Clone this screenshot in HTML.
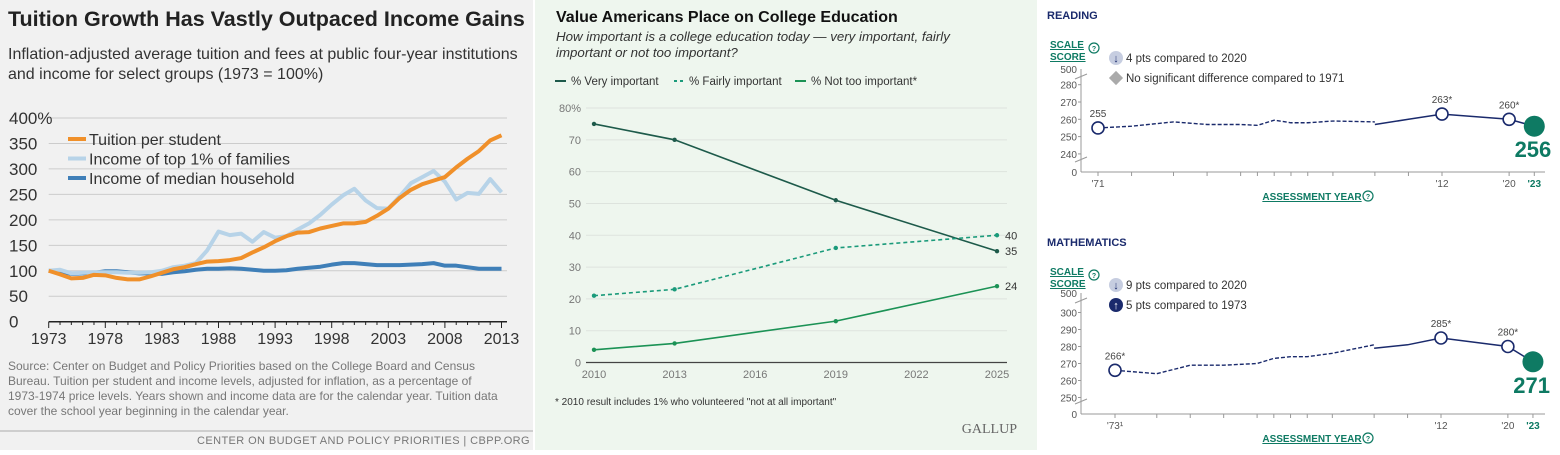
<!DOCTYPE html>
<html><head><meta charset="utf-8"><style>
body{margin:0;width:1560px;height:450px;overflow:hidden;background:#fff;font-family:"Liberation Sans",sans-serif}
svg text{font-family:"Liberation Sans",sans-serif}
</style></head><body>
<svg id="s" width="1560" height="450" xmlns="http://www.w3.org/2000/svg">
<rect x="0" y="0" width="533" height="450" fill="#f1f1f1"/>
<rect x="535" y="0" width="502" height="450" fill="#eef6ee"/>
<g id="left">
<text x="8" y="26" font-size="21.5" font-weight="bold" fill="#222">Tuition Growth Has Vastly Outpaced Income Gains</text>
<text x="8" y="59" font-size="16" fill="#333">Inflation-adjusted average tuition and fees at public four-year institutions</text>
<text x="8" y="79" font-size="16" fill="#333">and income for select groups (1973 = 100%)</text>
<g font-size="12" fill="#777">
<text x="8" y="370">Source: Center on Budget and Policy Priorities based on the College Board and Census</text>
<text x="8" y="385">Bureau. Tuition per student and income levels, adjusted for inflation, as a percentage of</text>
<text x="8" y="400">1973-1974 price levels. Years shown and income data are for the calendar year. Tuition data</text>
<text x="8" y="415">cover the school year beginning in the calendar year.</text>
</g>
<line x1="0" y1="431" x2="533" y2="431" stroke="#aaa"/>
<text x="530" y="444" font-size="11" fill="#777" text-anchor="end" letter-spacing="0.4">CENTER ON BUDGET AND POLICY PRIORITIES | CBPP.ORG</text>
</g>
<g id="mid">
<text x="556" y="22" font-size="16" font-weight="bold" fill="#111">Value Americans Place on College Education</text>
<text x="556" y="41" font-size="13.3" font-style="italic" fill="#333">How important is a college education today — very important, fairly</text>
<text x="556" y="57" font-size="13.3" font-style="italic" fill="#333">important or not too important?</text>
<g font-size="11.5" fill="#333">
<line x1="555" y1="81" x2="566" y2="81" stroke="#1d5a4a" stroke-width="2"/><text x="571" y="85">% Very important</text>
<line x1="674" y1="81" x2="685" y2="81" stroke="#1a9a7a" stroke-width="2" stroke-dasharray="3,3"/><text x="689" y="85">% Fairly important</text>
<line x1="795" y1="81" x2="806" y2="81" stroke="#1b9255" stroke-width="2"/><text x="811" y="85">% Not too important*</text>
</g>
<text x="555" y="405" font-size="10" fill="#333">* 2010 result includes 1% who volunteered "not at all important"</text>
<text x="1017" y="433" font-size="14" fill="#666" text-anchor="end" style="font-family:'Liberation Serif',serif">GALLUP</text>
</g>
<g id="right"></g>
</svg>
<script>
// ---- Left chart data
const leftYears=[];for(let y=1973;y<=2013;y++)leftYears.push(y);
const tuition=[100,93,85,86,92,91,86,83,83,89,96,103,107,113,118,119,121,125,136,146,158,168,175,176,183,188,193,193,196,208,222,243,259,270,277,284,303,320,335,356,366];
const top1=[100,102,95,96,97,97,97,96,96,97,100,107,110,115,140,177,170,173,157,176,165,168,181,193,210,230,248,261,238,223,222,246,272,284,296,275,240,253,251,280,254];
const median=[100,98,94,95,96,99,99,97,95,95,94,97,99,102,104,104,105,104,102,100,100,101,104,106,108,112,115,115,113,111,111,111,112,113,115,110,110,107,104,104,104];
const leftTicks=[0,50,100,150,200,250,300,350,400];
const leftXLabels=[1973,1978,1983,1988,1993,1998,2003,2008,2013];
// ---- Middle chart data
const midYears=[2010,2013,2019,2025];
const veryImp=[75,70,51,35];
const fairlyImp=[21,23,36,40];
const notTooImp=[4,6,13,24];
const midTicks=[0,10,20,30,40,50,60,70,80];
const midXLabels=[2010,2013,2016,2019,2022,2025];
// ---- Right charts data
const readDashYears=[1971,1975,1980,1984,1988,1990,1992,1994,1996,1999,2004];
const readDashVals=[255,256,258.5,257,257,256.5,259.5,258,258,259,258.5];
const readSolidYears=[2004,2008,2012,2020,2023];
const readSolidVals=[257,260,263,260,256];
const mathDashYears=[1973,1978,1982,1986,1990,1992,1994,1996,1999,2004];
const mathDashVals=[266,264,269,269,270,273,274,274,276,281];
const mathSolidYears=[2004,2008,2012,2020,2023];
const mathSolidVals=[279,281,285,280,271];
const readTicks=[240,250,260,270,280];
const mathTicks=[250,260,270,280,290,300];

const NS="http://www.w3.org/2000/svg";
function mk(parent,tag,attrs,txt){const e=document.createElementNS(NS,tag);for(const k in attrs)e.setAttribute(k,attrs[k]);if(txt!==undefined)e.textContent=txt;parent.appendChild(e);return e;}
const L=document.getElementById('left'),M=document.getElementById('mid'),R=document.getElementById('right');

// Left
const lx=y=>48.7+(y-1973)*(501.5-48.7)/40, ly=v=>321.7-v*(321.7-118)/400;
leftTicks.forEach(t=>{
 const g=mk(L,'line',{x1:lx(1973),x2:507,y1:ly(t),y2:ly(t),stroke:t===0?'#222':'#ccc','stroke-width':t===0?1.5:1});
 
 
 const tx=mk(L,'text',{x:9,y:ly(t)+6,'font-size':17,fill:'#333'},t===400?'400%':String(t));
 
 
});
for(let y=1973;y<=2013;y++){const tk=mk(L,'line',{x1:lx(y),x2:lx(y),y1:321.7,y2:(y-1973)%5===0?328:325,stroke:'#222'});
 
 }
leftXLabels.forEach(y=>{const t=mk(L,'text',{x:lx(y),y:344,'font-size':16,fill:'#333','text-anchor':'middle'},String(y));
 
 });
function lline(vals,color,name){const p=mk(L,'polyline',{points:vals.map((v,i)=>lx(leftYears[i])+','+ly(v)).join(' '),fill:'none',stroke:color,'stroke-width':4,'stroke-linejoin':'round'});
 
 }
lline(median,'#3f7fb8','median-household-line');
lline(top1,'#b7d3e8','top-1-percent-line');
lline(tuition,'#f0902a','tuition-line');
[['Tuition per student','#f0902a'],['Income of top 1% of families','#b7d3e8'],['Income of median household','#3f7fb8']].forEach((d,i)=>{
 const y=139+i*19.5;
 const ln=mk(L,'line',{x1:68,x2:86,y1:y,y2:y,stroke:d[1],'stroke-width':4});
 
 
 const t=mk(L,'text',{x:89,y:y+6,'font-size':16,fill:'#333'},d[0]);
 
 
});

// Middle
const mx=y=>594+(y-2010)*(997-594)/15, my=v=>362.5-v*(362.5-108)/80;
midTicks.forEach(t=>{
 const g=mk(M,'line',{x1:586,x2:1007,y1:my(t),y2:my(t),stroke:t===0?'#444':'#dde3dd','stroke-width':t===0?1.2:1});
 
 
 const tx=mk(M,'text',{x:581,y:my(t)+4,'font-size':11,fill:'#777','text-anchor':'end'},t===80?'80%':String(t));
 
 
});
midXLabels.forEach(y=>{const t=mk(M,'text',{x:mx(y),y:378,'font-size':11,fill:'#777','text-anchor':'middle'},String(y));
 
 });
function mline(vals,color,dash,name){
 const p=mk(M,'polyline',{points:vals.map((v,i)=>mx(midYears[i])+','+my(v)).join(' '),fill:'none',stroke:color,'stroke-width':1.6});
 if(dash)p.setAttribute('stroke-dasharray','4,3');
 
 
 vals.forEach((v,i)=>{const c=mk(M,'circle',{cx:mx(midYears[i]),cy:my(v),r:2.2,fill:color});
  
  });
 const last=vals[vals.length-1];
 const lb=mk(M,'text',{x:mx(midYears[midYears.length-1])+8,y:my(last)+4,'font-size':11,fill:'#333'},String(last));
 
 
}
mline(veryImp,'#1d5a4a',false,'very-important-line');
mline(fairlyImp,'#1a9a7a',true,'fairly-important-line');
mline(notTooImp,'#1b9255',false,'not-too-important-line');

// Right
function naep(cfg){
 const g=mk(R,'g',{});
 
 
 const o=cfg.oy;
 const yx=y=>cfg.x0+(y-cfg.y0)*cfg.pxYr;
 const yv=v=>cfg.vBase-(v-cfg.vRef)*cfg.pxV;
 const t=mk(g,'text',{x:1047,y:o+19,'font-size':11,'font-weight':'bold',fill:'#1a2a6c'},cfg.title);
 
 
 const s1=mk(g,'text',{x:1050,y:o+48,'font-size':10,'font-weight':'bold',fill:'#0e7a63','text-decoration':'underline'},'SCALE');
 
 
 mk(g,'text',{x:1050,y:o+60,'font-size':10,'font-weight':'bold',fill:'#0e7a63','text-decoration':'underline'},'SCORE');
 const h=mk(g,'circle',{cx:1094,cy:o+48,r:5,fill:'none',stroke:'#0e7a63','stroke-width':1.2});
 
 
 mk(g,'text',{x:1094,y:o+51,'font-size':7,'text-anchor':'middle',fill:'#0e7a63','font-weight':'bold'},'?');
 cfg.notes.forEach((n,i)=>{
  const yy=o+58+i*20;
  if(n.icon==='down'){mk(g,'circle',{cx:1116,cy:yy,r:7,fill:'#c6cde0'});mk(g,'text',{x:1116,y:yy+4,'font-size':11,'text-anchor':'middle',fill:'#1a2a6c','font-weight':'bold'},'↓');}
  else if(n.icon==='up'){mk(g,'circle',{cx:1116,cy:yy,r:7,fill:'#1a2a6c'});mk(g,'text',{x:1116,y:yy+4,'font-size':11,'text-anchor':'middle',fill:'#fff','font-weight':'bold'},'↑');}
  else mk(g,'rect',{x:1111,y:yy-5,width:10,height:10,fill:'#aaa',transform:`rotate(45 1116 ${yy})`});
  const nt=mk(g,'text',{x:1126,y:yy+4,'font-size':11.5,fill:'#333'},n.text);
  
  
 });
 const axY=cfg.axisY;
 mk(g,'line',{x1:1081,x2:1081,y1:cfg.top,y2:axY,stroke:'#999'});
 mk(g,'line',{x1:1081,x2:1545,y1:axY,y2:axY,stroke:'#999'});
 mk(g,'text',{x:1077,y:cfg.top+4,'font-size':10,fill:'#555','text-anchor':'end'},'500');
 mk(g,'text',{x:1077,y:axY+4,'font-size':10,fill:'#555','text-anchor':'end'},'0');
 mk(g,'line',{x1:1075,x2:1087,y1:cfg.top+10,y2:cfg.top+5,stroke:'#999'});
 mk(g,'line',{x1:1075,x2:1087,y1:axY-10,y2:axY-15,stroke:'#999'});
 cfg.ticks.forEach(v=>{mk(g,'line',{x1:1078,x2:1081,y1:yv(v),y2:yv(v),stroke:'#999'});
  const tl=mk(g,'text',{x:1077,y:yv(v)+4,'font-size':10,fill:'#555','text-anchor':'end'},String(v));
  
  });
 cfg.dashYears.concat([2008,2012,2020,2023]).forEach(y=>mk(g,'line',{x1:yx(y),x2:yx(y),y1:axY,y2:axY+4,stroke:'#999'}));
 cfg.xLabels.forEach((l,i)=>{const xl=mk(g,'text',{x:yx(cfg.xYears[i]),y:axY+15,'font-size':10,fill:i===3?'#0e7a63':'#555','font-weight':i===3?'bold':'normal','text-anchor':'middle'},l);
  
  });
 const at=mk(g,'text',{x:1312,y:axY+28,'font-size':10,'font-weight':'bold',fill:'#0e7a63','text-anchor':'middle','text-decoration':'underline'},'ASSESSMENT YEAR');
 
 
 mk(g,'circle',{cx:1368,cy:axY+24,r:5,fill:'none',stroke:'#0e7a63','stroke-width':1.2});
 mk(g,'text',{x:1368,y:axY+27,'font-size':7,'text-anchor':'middle',fill:'#0e7a63','font-weight':'bold'},'?');
 const dl=mk(g,'polyline',{points:cfg.dashYears.map((y,i)=>yx(y)+','+yv(cfg.dashVals[i])).join(' '),fill:'none',stroke:'#1a2a6c','stroke-width':1.4,'stroke-dasharray':'4,2'});
 
 
 const sl=mk(g,'polyline',{points:cfg.solidYears.map((y,i)=>yx(y)+','+yv(cfg.solidVals[i])).join(' '),fill:'none',stroke:'#1a2a6c','stroke-width':1.5});
 
 
 const pts=[[cfg.dashYears[0],cfg.dashVals[0],cfg.firstLbl]];
 const n=cfg.solidYears.length;
 pts.push([cfg.solidYears[n-3],cfg.solidVals[n-3],cfg.solidVals[n-3]+'*']);
 pts.push([cfg.solidYears[n-2],cfg.solidVals[n-2],cfg.solidVals[n-2]+'*']);
 pts.forEach(p=>{const c=mk(g,'circle',{cx:yx(p[0]),cy:yv(p[1]),r:6,fill:'#fff',stroke:'#1a2a6c','stroke-width':1.6});
  
  
  mk(g,'text',{x:yx(p[0]),y:yv(p[1])-11,'font-size':10,fill:'#444','text-anchor':'middle'},p[2]);});
 const ly2=cfg.solidYears[n-1],lv=cfg.solidVals[n-1];
 const big=mk(g,'circle',{cx:yx(ly2),cy:yv(lv),r:10.5,fill:'#0e7a63'});
 
 
 const bl=mk(g,'text',{x:yx(ly2)+17,y:yv(lv)+31,'font-size':22,'font-weight':'bold',fill:'#0e7a63','text-anchor':'end'},String(lv));
 
 
}
naep({name:'reading-chart',title:'READING',oy:0,x0:1098,y0:1971,pxYr:(1442-1098)/41,vBase:119.3,vRef:260,pxV:1.73,top:69,axisY:172,
 ticks:readTicks,dashYears:readDashYears,dashVals:readDashVals,solidYears:readSolidYears,solidVals:readSolidVals,firstLbl:'255',
 xLabels:["'71","'12","'20","'23"],xYears:[1971,2012,2020,2023],
 notes:[{icon:'down',text:'4 pts compared to 2020'},{icon:'diamond',text:'No significant difference compared to 1971'}]});
naep({name:'mathematics-chart',title:'MATHEMATICS',oy:227,x0:1115,y0:1973,pxYr:(1441-1115)/39,vBase:363.5,vRef:270,pxV:1.7,top:293,axisY:414,
 ticks:mathTicks,dashYears:mathDashYears,dashVals:mathDashVals,solidYears:mathSolidYears,solidVals:mathSolidVals,firstLbl:'266*',
 xLabels:["'73¹","'12","'20","'23"],xYears:[1973,2012,2020,2023],
 notes:[{icon:'down',text:'9 pts compared to 2020'},{icon:'up',text:'5 pts compared to 1973'}]});
</script>
</body></html>
